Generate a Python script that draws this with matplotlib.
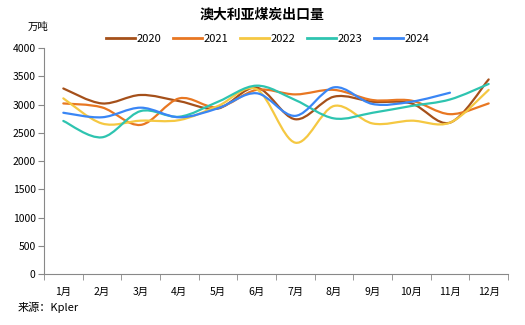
import matplotlib.pyplot as plt
from matplotlib.path import Path
from matplotlib.patches import PathPatch
from matplotlib.lines import Line2D

plt.rcParams['font.family'] = ['Noto Sans CJK SC', 'DejaVu Sans']

months = ["1月", "2月", "3月", "4月", "5月", "6月", "7月", "8月", "9月", "10月", "11月", "12月"]

y2020 = [3285, 3020, 3170, 3060, 2930, 3300, 2740, 3140, 3050, 3020, 2680, 3445]
y2021 = [3020, 2950, 2640, 3110, 2950, 3260, 3180, 3260, 3080, 3070, 2830, 3020]
y2022 = [3110, 2665, 2715, 2725, 2975, 3270, 2325, 2975, 2665, 2715, 2680, 3260]
y2023 = [2710, 2420, 2885, 2785, 3050, 3335, 3080, 2755, 2855, 2975, 3090, 3365]
y2024 = [2855, 2775, 2945, 2775, 2935, 3200, 2800, 3305, 3010, 3050, 3210]

series = [
    ("2020", y2020, "#A5501A"),
    ("2021", y2021, "#E87722"),
    ("2022", y2022, "#F5C842"),
    ("2023", y2023, "#2EC4B0"),
    ("2024", y2024, "#3A86F5"),
]


def smooth_path(xs, ys):
    # excel style smoothed line: cubic bezier through every point
    pts = list(zip(xs, ys))
    n = len(pts)
    verts = [pts[0]]
    codes = [Path.MOVETO]
    for i in range(n - 1):
        p0 = pts[max(i - 1, 0)]
        p1 = pts[i]
        p2 = pts[i + 1]
        p3 = pts[min(i + 2, n - 1)]
        c1 = (p1[0] + (p2[0] - p0[0]) / 6, p1[1] + (p2[1] - p0[1]) / 6)
        c2 = (p2[0] - (p3[0] - p1[0]) / 6, p2[1] - (p3[1] - p1[1]) / 6)
        verts += [c1, c2, p2]
        codes += [Path.CURVE4] * 3
    return Path(verts, codes)


fig = plt.figure(figsize=(5.25, 3.25), dpi=100)
ax = fig.add_axes([0.0838, 0.157, 0.8838, 0.695])

handles = []
for name, vals, color in series:
    xs = list(range(len(vals)))
    ax.add_patch(PathPatch(smooth_path(xs, vals), fill=False, edgecolor=color, lw=1.6,
                           capstyle="round", joinstyle="round"))
    handles.append(Line2D([], [], color=color, lw=2))

ax.set_xlim(-0.5, 11.5)
ax.set_ylim(0, 4000)
ax.set_yticks(range(0, 4001, 500))
ax.set_xticks(range(12))
ax.set_xticklabels(months)
ax.set_xticks([i - 0.5 for i in range(13)], minor=True)
ax.tick_params(axis="x", which="major", length=0, pad=9, labelsize=7.5)
ax.tick_params(axis="x", which="minor", length=4, color="#888888")
ax.tick_params(axis="y", length=4, color="#888888", labelsize=7.5, pad=2)

for s in ("top", "right"):
    ax.spines[s].set_visible(False)
for s in ("left", "bottom"):
    ax.spines[s].set_color("#888888")

fig.text(0.5, 0.955, "澳大利亚煤炭出口量", ha="center", va="center", fontsize=10, fontweight="bold")
fig.text(0.052, 0.918, "万吨", ha="left", va="center", fontsize=7.5)
fig.text(0.034, 0.055, "来源：Kpler", ha="left", va="center", fontsize=8)

fig.legend(handles, [s[0] for s in series], loc="center", bbox_to_anchor=(0.51, 0.88), ncol=5,
           frameon=False, fontsize=8, handlelength=2.6, handletextpad=0.2, columnspacing=1.0)

fig.savefig("out.png", dpi=100)
